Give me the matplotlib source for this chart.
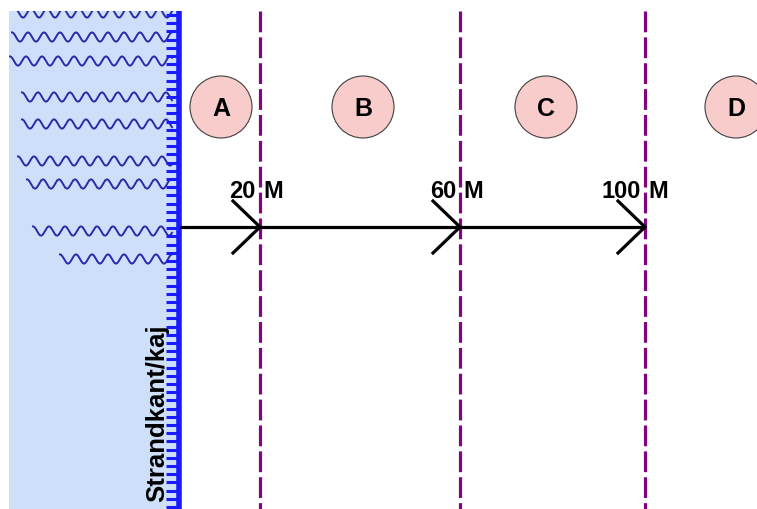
import numpy as np
import matplotlib
matplotlib.use("Agg")
import matplotlib.pyplot as plt
from matplotlib.patches import Circle, Rectangle

plt.rcParams['font.family'] = ['Liberation Sans', 'DejaVu Sans']

# ---- data ----
distance_labels = ["20 M", "60 M", "100 M"]
boundary_x = [260, 460, 645]          # pixel x of each zone boundary
zone_letters = ["A", "B", "C", "D"]
zone_centers_x = [221, 363, 546, 736]
zone_center_y = 108
shore_label = "Strandkant/kaj"

wave_rows_y = [14, 38, 62, 98, 125, 162, 185, 232, 260]
wave_rows_x0 = [15, 12, 10, 22, 22, 18, 27, 33, 60]

W, H = 757, 510
fig = plt.figure(figsize=(W / 100, H / 100), dpi=100)
ax = fig.add_axes([0, 0, 1, 1])
ax.set_xlim(0, W)
ax.set_ylim(H, 0)
ax.axis('off')

# water area
water = Rectangle((9, 12), 170, H - 12, facecolor='#cddff9', edgecolor='none', zorder=0)
ax.add_patch(water)

# waves
for y0, x0 in zip(wave_rows_y, wave_rows_x0):
    xs = np.linspace(x0, 172, 400)
    ys = y0 - 4.6 * np.cos(2 * np.pi * (xs - x0) / 16.0)
    ln, = ax.plot(xs, ys, color='#2a2aa8', lw=1.4, zorder=2)
    ln.set_clip_path(water)

# shoreline ladder
ax.plot([179, 179], [12, H], color='#1a1aff', lw=4.0, solid_capstyle='butt', zorder=3)
for ty in np.arange(16, H, 8.2):
    ax.plot([166, 179], [ty, ty], color='#1a1aff', lw=2.2, solid_capstyle='butt', zorder=3)

# shore label
ax.text(157, 502, shore_label, rotation=90, ha='center', va='bottom',
        fontsize=18.5, fontweight='bold', color='black', zorder=4)

# dashed boundaries
for bx in boundary_x:
    ax.plot([bx, bx], [12, H], color='#7f067f', lw=2.3,
            linestyle=(0, (6.5, 1.6)), zorder=3)

# arrow line
arrow_y = 228
ax.plot([180, boundary_x[-1]], [arrow_y, arrow_y], color='black', lw=2.3,
        solid_capstyle='butt', zorder=5)
for bx in boundary_x:
    ax.plot([bx - 27, bx, bx - 27], [arrow_y - 26, arrow_y, arrow_y + 26],
            color='black', lw=2.3, solid_joinstyle='miter', zorder=5)

# distance labels: number left of the line, "M" right of it
for bx, lab in zip(boundary_x, distance_labels):
    num, unit = lab.split(" ")
    ax.text(bx - 4, 192, num, ha='right', va='center', fontsize=17,
            fontweight='bold', color='black', zorder=6)
    ax.text(bx + 3, 192, unit, ha='left', va='center', fontsize=17,
            fontweight='bold', color='black', zorder=6)

# zone circles
for cx, letter in zip(zone_centers_x, zone_letters):
    ax.add_patch(Circle((cx, zone_center_y), 31, facecolor='#f9cccc',
                        edgecolor='#404040', lw=0.8, zorder=4))
    ax.text(cx, zone_center_y + 1, letter, ha='center', va='center', fontsize=18,
            fontweight='bold', color='black', zorder=5)

fig.savefig('out.png', dpi=100)
